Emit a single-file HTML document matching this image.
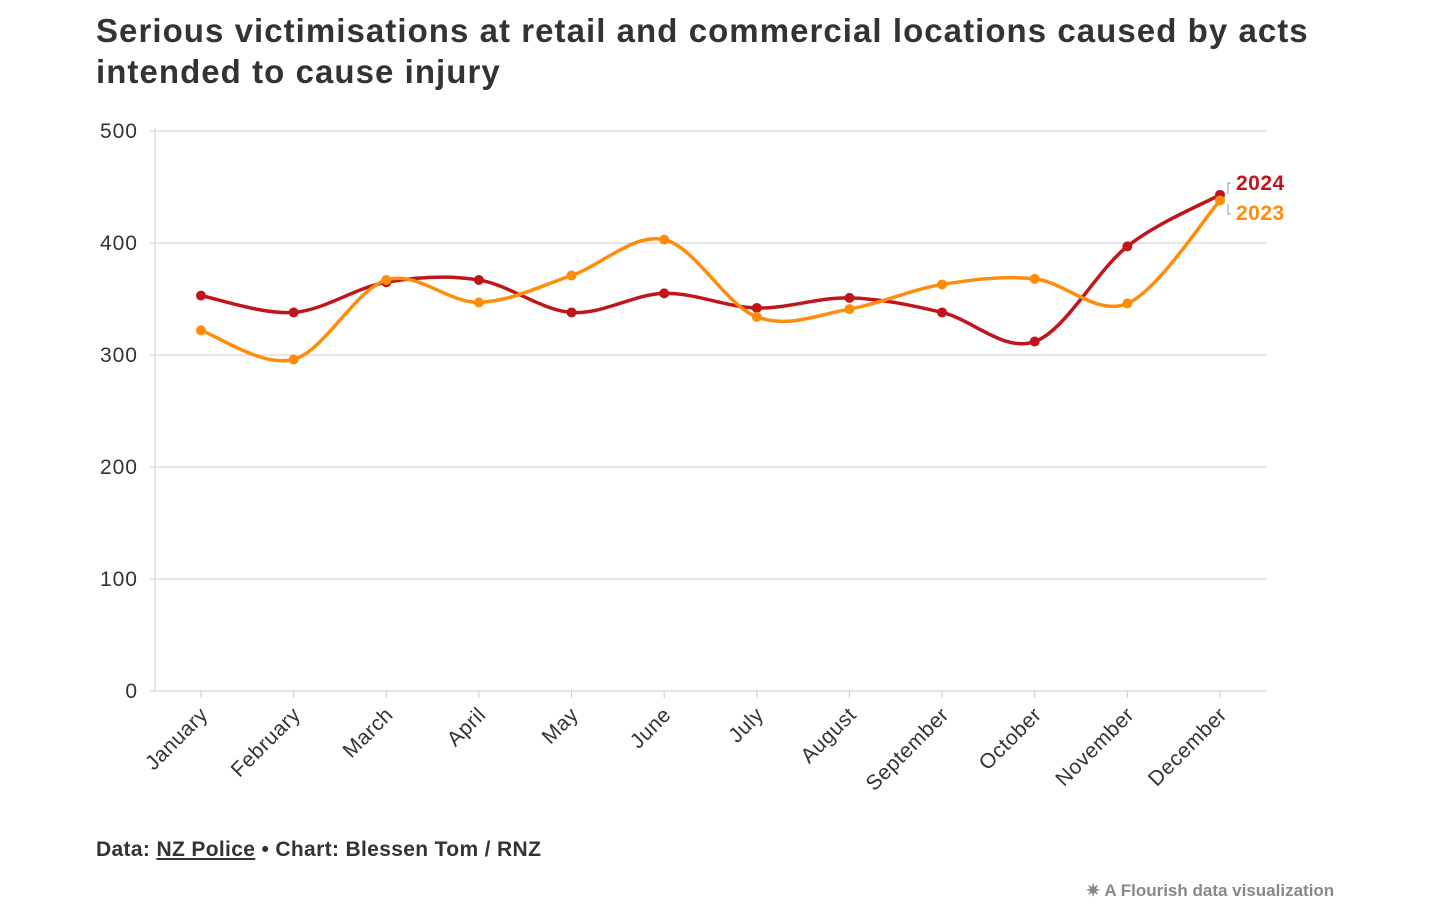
<!DOCTYPE html>
<html><head><meta charset="utf-8"><style>
body{margin:0;background:#fff;width:1456px;height:906px;overflow:hidden;font-family:"Liberation Sans",sans-serif}
h1{position:absolute;left:96px;top:10px;margin:0;font-size:33px;line-height:41px;font-weight:bold;color:#333;width:1300px;letter-spacing:1.05px}
.foot{position:absolute;left:96px;top:838px;font-size:21px;font-weight:bold;color:#333;letter-spacing:0.35px}
.fl{position:absolute;left:1086px;top:881px;font-size:17px;font-weight:bold;color:#888}
</style></head><body>
<h1>Serious victimisations at retail and commercial locations caused by acts intended to cause injury</h1>
<svg id="chart" width="1456" height="906" style="position:absolute;left:0;top:0"></svg>
<div class="foot">Data: <span style="text-decoration:underline">NZ Police</span> • Chart: Blessen Tom / RNZ</div>
<div class="fl">✷ A Flourish data visualization</div>
<script>
const months=["January","February","March","April","May","June","July","August","September","October","November","December"];
const s2024=[353,338,365,367,338,355,342,351,338,312,397,443];
const s2023=[322,296,367,347,371,403,334,341,363,368,346,438];
const yTicks=[0,100,200,300,400,500];
const svg=document.getElementById('chart');const NS='http://www.w3.org/2000/svg';
const x=i=>201+i*(1220-201)/11, y=v=>691-v*1.12;
function mk(t,a,p){const e=document.createElementNS(NS,t);for(const k in a)e.setAttribute(k,a[k]);(p||svg).appendChild(e);return e;}
yTicks.forEach(t=>{const g=mk('line',{x1:150,x2:1267,y1:y(t),y2:y(t),stroke:'#e6e6e6','stroke-width':2});

const l=mk('text',{x:138,y:y(t)+7,'text-anchor':'end','font-size':21,fill:'#333','letter-spacing':1});l.textContent=t;
});
const ax=mk('line',{x1:155,x2:155,y1:128,y2:691,stroke:'#e6e6e6','stroke-width':2});

months.forEach((m,i)=>{mk('line',{x1:x(i),x2:x(i),y1:691,y2:698,stroke:'#ccc','stroke-width':1});
const t=mk('text',{x:x(i)+8,y:716,'text-anchor':'end','font-size':21,fill:'#333','letter-spacing':0.5,transform:`rotate(-45 ${x(i)+8} 716)`});t.textContent=m;
});
function path(d){const p=d.map((v,i)=>[x(i),y(v)]);let s=`M${p[0]}`;
for(let i=0;i<p.length-1;i++){const p0=p[Math.max(0,i-1)],p1=p[i],p2=p[i+1],p3=p[Math.min(p.length-1,i+2)];
s+=`C${p1[0]+(p2[0]-p0[0])/6},${p1[1]+(p2[1]-p0[1])/6} ${p2[0]-(p3[0]-p1[0])/6},${p2[1]-(p3[1]-p1[1])/6} ${p2[0]},${p2[1]}`;}return s;}
[[s2024,'#c0161b','2024',183],[s2023,'#ff8c0a','2023',213]].forEach(([d,c,n,ly])=>{
const l=mk('path',{d:path(d),fill:'none',stroke:c,'stroke-width':3.5});

d.forEach((v,i)=>{const pt=mk('circle',{cx:x(i),cy:y(v),r:5,fill:c});
});
const t=mk('text',{x:1236,y:ly+7,'font-size':21,'font-weight':'bold',fill:c,'letter-spacing':0.5});t.textContent=n;
});
mk('path',{d:'M1231,183 h-3 v11 M1228,204 v10 h3',stroke:'#999',fill:'none','stroke-width':1});
</script>
</body></html>
